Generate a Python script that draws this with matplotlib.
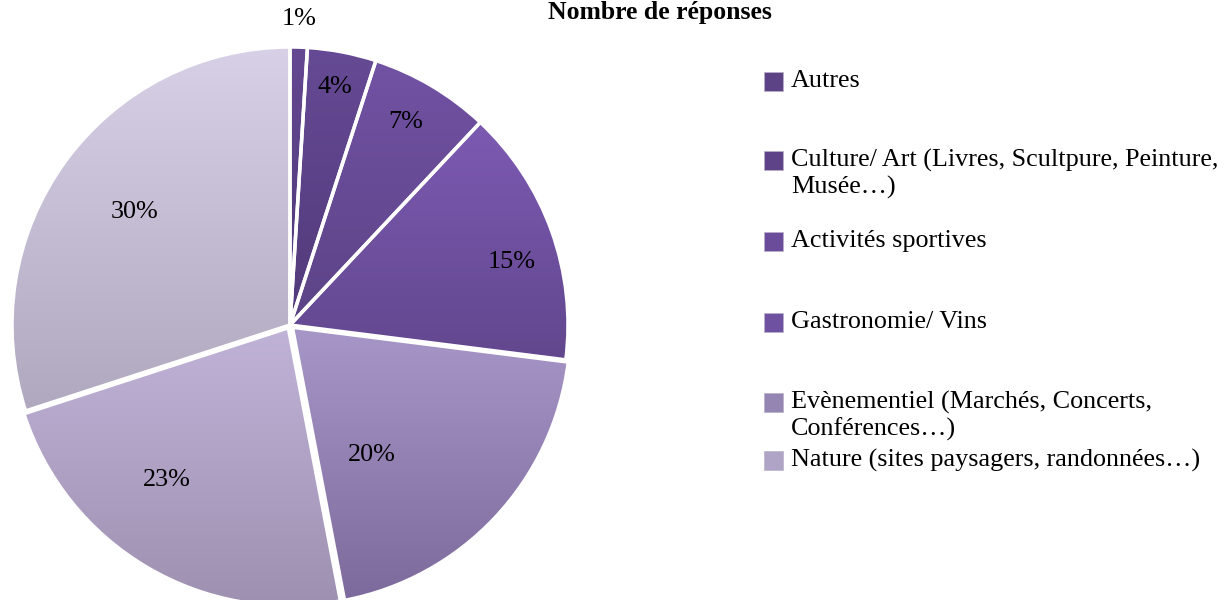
import matplotlib
matplotlib.use("Agg")
import matplotlib.pyplot as plt
import numpy as np
from matplotlib.colors import LinearSegmentedColormap
from matplotlib.patches import Rectangle

# ---- data ----
title = "Nombre de réponses"
values = [1, 4, 7, 15, 20, 23, 30]
pct_labels = ["1%", "4%", "7%", "15%", "20%", "23%", "30%"]
legend_labels = [
    "Autres",
    "Culture/ Art (Livres, Scultpure, Peinture,\nMusée…)",
    "Activités sportives",
    "Gastronomie/ Vins",
    "Evènementiel (Marchés, Concerts,\nConférences…)",
    "Nature (sites paysagers, randonnées…)",
]

# ---- style ----
top_colors = ["#644892", "#664a95", "#7252a4", "#7c5ab2", "#a797c8", "#c0b3d8", "#d8d0e6"]
bot_colors = ["#4e3776", "#513a7a", "#5c4386", "#62478e", "#7d6a9c", "#9e90b0", "#b0a8be"]
mid_colors = ["#5b4386", "#5e4389", "#6a4c9a", "#6f51a2", "#9585b2", "#b0a4c6", "#c8c0d6"]
label_radius = [1.1, 0.87, 0.84, 0.83, 0.54, 0.70, 0.69]
label_dang = [0, 0, 1, -4, -15, -8, 0]
explode = [0, 0, 0, 0, 0.012, 0.012, 0]
serif = ["Liberation Serif", "DejaVu Serif"]
FS = 18.8

W, H = 1228, 600
fig = plt.figure(figsize=(W / 100, H / 100), dpi=100)

cx, cy, R = 290, 325, 278
ax = fig.add_axes([(cx - R) / W, (H - cy - R) / H, 2 * R / W, 2 * R / H])
ax.set_xlim(-1, 1)
ax.set_ylim(-1, 1)
ax.set_aspect("equal")
ax.axis("off")

wedges, _ = ax.pie(values, startangle=90, counterclock=False, colors=mid_colors,
                   explode=explode, radius=1.0,
                   wedgeprops=dict(linewidth=0))
for i, w in enumerate(wedges):
    bb = w.get_path().get_extents()
    cmap = LinearSegmentedColormap.from_list("g%d" % i, [bot_colors[i], top_colors[i]])
    grad = np.linspace(0, 1, 256).reshape(-1, 1)
    im = ax.imshow(grad, cmap=cmap, origin="lower", aspect="auto",
                   extent=[bb.x0, bb.x1, bb.y0, bb.y1], zorder=2, interpolation="bilinear")
    im.set_clip_path(w)
# white separators on top
wedges2, _ = ax.pie(values, startangle=90, counterclock=False, explode=explode, radius=1.0,
                    wedgeprops=dict(facecolor="none", edgecolor="white", linewidth=2.5))
for w in wedges2:
    w.set_zorder(3)
ax.set_xlim(-1, 1)
ax.set_ylim(-1, 1)

for i, w in enumerate(wedges):
    ang = np.deg2rad((w.theta1 + w.theta2) / 2 + label_dang[i])
    r = label_radius[i]
    cxw, cyw = w.center
    ax.text(cxw + r * np.cos(ang), cyw + r * np.sin(ang), pct_labels[i],
            ha="center", va="center", fontsize=FS, family=serif, zorder=5, clip_on=False)

# title
fig.text(660 / W, 1 - 19 / H, title, ha="center", va="baseline", fontsize=18.5,
         fontweight="bold", family=serif)

# legend (manual)
legend_y = [81, 160, 241, 322, 402, 460]
line_step = 27
sw = 19
for i, lab in enumerate(legend_labels):
    y0 = legend_y[i]
    fig.patches.append(Rectangle((764 / W, 1 - (y0 + sw / 2) / H), sw / W, sw / H,
                                 transform=fig.transFigure, facecolor=mid_colors[i],
                                 edgecolor="#b9b0c8", linewidth=0.5))
    for j, line in enumerate(lab.split("\n")):
        fig.text(791 / W, 1 - (y0 + j * line_step) / H, line, ha="left", va="center",
                 fontsize=FS, family=serif)

fig.savefig("out.png", dpi=100)
